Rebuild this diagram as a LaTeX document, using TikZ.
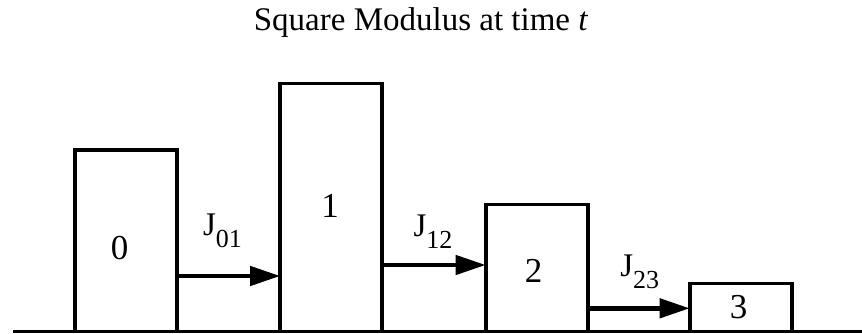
\documentclass[tikz,border=0pt]{standalone}
\usepackage{fontspec}
\setmainfont{Liberation Serif}
\usepackage{tikz}
\usetikzlibrary{arrows.meta, calc}

\newcommand{\coupling}[1]{J\raisebox{-12pt}{\fontsize{26}{30}\selectfont #1}}

\begin{document}
\begin{tikzpicture}[
  x=1pt, y=1pt,
  level/.style={draw, line width=3.6pt, outer sep=0pt, inner sep=0pt,
                minimum width=102pt, anchor=south west},
  digit/.style={font=\fontsize{35}{42}\selectfont, anchor=base, inner sep=0pt},
  rate/.style={font=\fontsize{33}{38}\selectfont, anchor=base, inner sep=0pt},
  flow/.style={-{Triangle[length=30pt, width=19pt]}, line width=4.5pt}
]
\useasboundingbox (0,0) rectangle (862,333);

\node[font=\fontsize{33}{40}\selectfont, anchor=base, inner sep=0pt] (title) at (421,303)
  {Square Modulus at time \textit{t}};

\node[level, minimum height=181.5pt] (lvl0) at (74.7,1.5) {};
\node[level, minimum height=248pt] (lvl1) at ([xshift=103.5pt]lvl0.south east) {};
\node[level, minimum height=127pt] (lvl2) at ([xshift=103.5pt]lvl1.south east) {};
\node[level, minimum height=48pt] (lvl3) at ([xshift=102pt]lvl2.south east) {};

\draw[line width=3.6pt] (13,1.5) -- (862,1.5);

\node[digit] (n0) at ($(lvl0.south)+(-6,72.5)$) {0};
\node[digit] (n1) at ($(lvl1.south)+(-1,114.5)$) {1};
\node[digit] (n2) at ($(lvl2.south)+(-3,49.5)$) {2};
\node[digit] (n3) at ($(lvl3.south)+(-2,13.2)$) {3};

\draw[flow] ([yshift=55.5pt]lvl0.south east) -- ([yshift=55.5pt]lvl1.south west);
\draw[flow] ([yshift=66.5pt]lvl1.south east) -- ([yshift=66.5pt]lvl2.south west);
\draw[flow] ([yshift=23.2pt]lvl2.south east) -- ([yshift=23.2pt]lvl3.south west);

\node[rate] (j01) at ($(lvl0.south east)!0.5!(lvl1.south west)+(-6,96.5)$) {\coupling{01}};
\node[rate] (j12) at ($(lvl1.south east)!0.5!(lvl2.south west)+(-1,95.5)$) {\coupling{12}};
\node[rate] (j23) at ($(lvl2.south east)!0.5!(lvl3.south west)+(1,55.5)$) {\coupling{23}};
\end{tikzpicture}
\end{document}
